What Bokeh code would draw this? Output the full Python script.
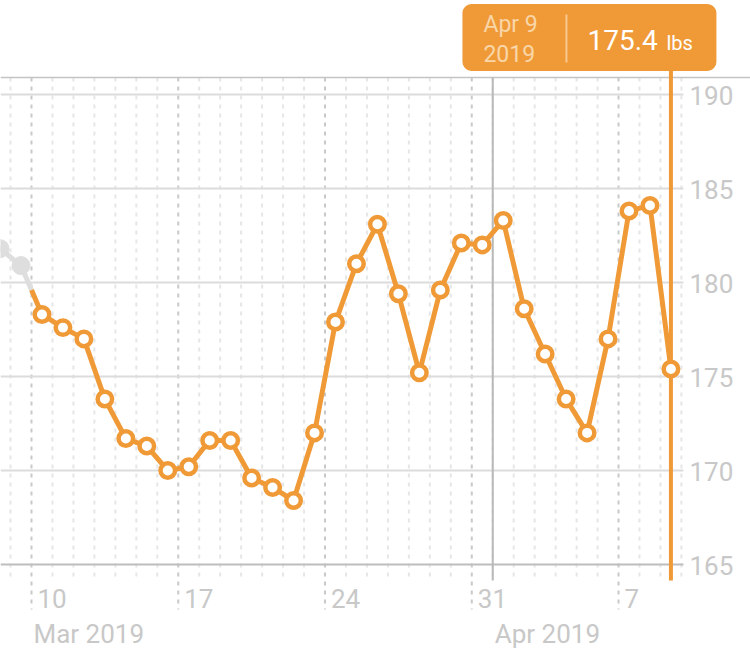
import datetime as dt
from bokeh.plotting import figure
from bokeh.models import Range1d
from bokeh.core.properties import value
from bokeh.embed import file_html
from bokeh.resources import INLINE

# ---------------- data ----------------
gray_dates = ["2019-03-07", "2019-03-08", "2019-03-09"]
gray_weights = [182.4, 181.8, 180.9]

dates = ["2019-03-10", "2019-03-11", "2019-03-12", "2019-03-13", "2019-03-14",
         "2019-03-15", "2019-03-16", "2019-03-17", "2019-03-18", "2019-03-19",
         "2019-03-20", "2019-03-21", "2019-03-22", "2019-03-23", "2019-03-24",
         "2019-03-25", "2019-03-26", "2019-03-27", "2019-03-28", "2019-03-29",
         "2019-03-30", "2019-03-31", "2019-04-01", "2019-04-02", "2019-04-03",
         "2019-04-04", "2019-04-05", "2019-04-06", "2019-04-07", "2019-04-08",
         "2019-04-09"]
weights = [178.3, 177.6, 177.0, 173.8, 171.7, 171.3, 170.0, 170.2, 171.6, 171.6,
           169.6, 169.1, 168.4, 172.0, 177.9, 181.0, 183.1, 179.4, 175.2, 179.6,
           182.1, 182.0, 183.3, 178.6, 176.2, 173.8, 172.0, 177.0, 183.8, 184.1,
           175.4]

y_ticks = [165, 170, 175, 180, 185, 190]
week_ticks = ["2019-03-10", "2019-03-17", "2019-03-24", "2019-03-31", "2019-04-07"]
week_labels = ["10", "17", "24", "31", "7"]
month_ticks = ["2019-03-10", "2019-04-01"]
month_labels = ["Mar 2019", "Apr 2019"]
month_boundary = "2019-04-01"
unit = "lbs"

# ---------------- styling / layout ----------------
ORANGE = "#F09A37"
GRAY_PT = "#DEDEDE"
LABEL = "#C8C8C8"
FONT = value("Roboto")

W, H = 750, 653
PX_DAY = 20.965
PX_LB = 18.8


def d(s):
    return dt.datetime.strptime(s, "%Y-%m-%d")


noon = dt.timedelta(hours=12)
t0 = d(dates[0])
x_start = t0 - dt.timedelta(days=31 / PX_DAY)
x_end = x_start + dt.timedelta(days=W / PX_DAY)
y_top = 165 + 564 / PX_LB
y_bot = y_top - H / PX_LB


def yp(py):  # pixel row -> value
    return y_top - py / PX_LB


def xoff(t, px):
    return t + dt.timedelta(days=px / PX_DAY)


p = figure(width=W, height=H, output_backend="svg", toolbar_location=None,
           x_axis_type="datetime", x_axis_location=None, y_axis_location=None,
           x_range=Range1d(x_start, x_end), y_range=Range1d(y_bot, y_top),
           min_border=0, outline_line_color=None, background_fill_color="white",
           border_fill_color="white")
p.xgrid.visible = False
p.ygrid.visible = False

plot_right = d("2019-04-10")
frame_top = yp(77)
minor_bot = yp(580)
major_bot = yp(609)

# vertical day lines
day = d("2019-03-09")
minor_x, major_x = [], []
while day <= plot_right:
    s = day.strftime("%Y-%m-%d")
    if s in week_ticks:
        major_x.append(day)
    else:
        minor_x.append(day)
    day += dt.timedelta(days=1)
p.segment(minor_x, [frame_top] * len(minor_x), minor_x, [minor_bot] * len(minor_x),
          line_color="#E6E6E6", line_width=2, line_dash="4 5")
p.segment(major_x, [frame_top] * len(major_x), major_x, [major_bot] * len(major_x),
          line_color="#C9C9C9", line_width=2, line_dash="4 5")

# horizontal grid
for v in y_ticks:
    p.segment([x_start], [v], [xoff(plot_right, 2)], [v],
              line_color="#BDBDBD" if v == y_ticks[0] else "#DCDCDC", line_width=2)
# top border line
p.segment([x_start], [frame_top], [x_end], [frame_top], line_color="#C4C4C4", line_width=1.5)
# month boundary
mb = d(month_boundary)
p.segment([mb], [frame_top], [mb], [minor_bot], line_color="#B8B8B8", line_width=2)

# y labels
p.text([xoff(plot_right, 8)] * len(y_ticks), y_ticks, text=[str(v) for v in y_ticks],
       text_font=FONT, text_font_size="26px", text_color=LABEL,
       text_baseline="middle", text_align="left", y_offset=1)
# week labels
wx = [d(s) for s in week_ticks]
p.text(wx, [yp(598)] * len(wx), text=week_labels, x_offset=6,
       text_font=FONT, text_font_size="26px", text_color=LABEL,
       text_baseline="middle", text_align="left")
mx = [d(s) for s in month_ticks]
p.text(mx, [yp(633)] * len(mx), text=month_labels, x_offset=2,
       text_font=FONT, text_font_size="26px", text_color=LABEL,
       text_baseline="middle", text_align="left")

# series
gx = [d(s) + noon for s in gray_dates]
xs = [d(s) + noon for s in dates]
b_val = (gray_weights[-1] + weights[0]) / 2
p.line(gx + [t0], gray_weights + [b_val], line_color=GRAY_PT, line_width=5, line_join="round")
p.scatter(gx, gray_weights, size=18, fill_color=GRAY_PT, line_color=GRAY_PT, line_width=1)

# selection line
sel_x = xs[-1]
sel_v = weights[-1]
p.segment([sel_x], [yp(70)], [sel_x], [minor_bot], line_color=ORANGE, line_width=4)

p.line([t0] + xs, [b_val] + weights, line_color=ORANGE, line_width=5, line_join="round")
p.scatter(xs, weights, size=14.5, fill_color="white", line_color=ORANGE, line_width=4.5)

# tooltip
tl, tr = xoff(sel_x, 462 - 670.5), xoff(sel_x, 716 - 670.5)
p.quad(left=[tl], right=[tr], top=[yp(3.5)], bottom=[yp(70.5)], fill_color=ORANGE,
       line_color=None, border_radius=9)
sel_date = d(dates[-1])
p.text([xoff(sel_x, 483 - 670.5)] * 2, [yp(24), yp(52.5)],
       text=[sel_date.strftime("%b ") + str(sel_date.day), sel_date.strftime("%Y")],
       text_font=FONT, text_font_size="23px", text_color="#F9D6A8",
       text_baseline="middle", text_align="left")
p.segment([xoff(sel_x, 566 - 670.5)], [yp(14)], [xoff(sel_x, 566 - 670.5)], [yp(62)],
          line_color="#F7C88F", line_width=2)
p.text([xoff(sel_x, 587 - 670.5)], [yp(39)], text=[f"{sel_v:.1f}"],
       text_font=FONT, text_font_size="28px", text_color="white",
       text_baseline="middle", text_align="left")
p.text([xoff(sel_x, 666 - 670.5)], [yp(42)], text=[unit],
       text_font=FONT, text_font_size="20px", text_color="white",
       text_baseline="middle", text_align="left")

open("out.html", "w").write(file_html(p, INLINE))
